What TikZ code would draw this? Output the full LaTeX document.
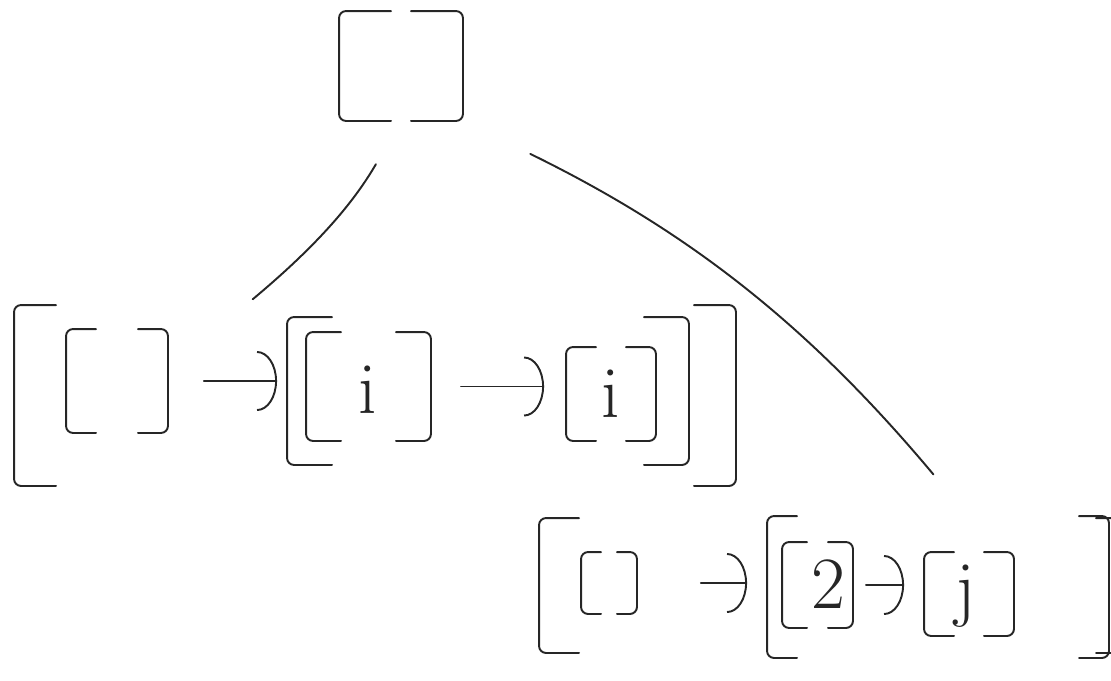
\documentclass[tikz,border=0pt]{standalone}
\usetikzlibrary{arrows.meta,fit}
\begin{document}
\begin{tikzpicture}[x=0.02cm, y=-0.02cm, line width=1.1pt, line cap=round, line join=round,
  every node/.style={inner sep=0pt},
  brk/.style={draw=black!85, rounded corners=4pt},
  arr/.style={draw=black!85, -{Arc Barb[length=0.4cm, width=1.2cm]}},
  edge/.style={draw=black!85},
  lbl/.style={font=\fontsize{42}{42}\selectfont, text=black!85}]
  \useasboundingbox (0,0) rectangle (1111,680);
  \clip (0,0) rectangle (1111,680);
  % root
  \node[fit={(340,12) (462,120)}] (root) {};
  % left child
  \node[fit={(15,306) (735,485)}] (g1) {};
  \node[fit={(67,330) (167,432)}] (e1) {};
  \node[fit={(288,318) (688,464)}] (s1) {};
  \node[fit={(307,333) (430,440)}] (a1) {};
  \node[fit={(567,348) (655,440)}] (b1) {};
  \node[lbl] (a1t) at (368,390) {i};
  \node[lbl] (b1t) at (611,394) {i};
  % right child
  \node[fit={(540,519) (1135,652)}] (g2) {};
  \node[fit={(582,553) (636,613)}] (e2) {};
  \node[fit={(768,517) (1108,657)}] (s2) {};
  \node[fit={(783,543) (852,627)}] (a2) {};
  \node[fit={(925,553) (1013,635)}] (b2) {};
  \node[lbl] (a2t) at (828,584) {2};
  \node[lbl] (b2t) at (966,596) {j};
  \foreach \n/\h in {root/52, g1/42, e1/30, s1/45, a1/35, b1/30, g2/40, e2/20, s2/30, a2/25, b2/30}{
    \draw[brk] (\n.north west) ++(\h,0) -- (\n.north west) -- (\n.south west) -- ++(\h,0);
    \draw[brk] (\n.north east) ++(-\h,0) -- (\n.north east) -- (\n.south east) -- ++(-\h,0);
  }
  \draw[edge, shorten <=1cm, shorten >=0.18cm] (root.south) to[bend left=10] (g1.145);
  \draw[edge, shorten <=1.5cm, shorten >=1.14cm] (root.south east) to[bend left=12] (g2.27);
  \draw[arr, shorten <=0.72cm, shorten >=0.2cm] (e1.east) -- (e1.east -| s1.west);
  \draw[arr, shorten <=0.6cm, shorten >=0.44cm] (a1.east) -- (a1.east -| b1.west);
  \draw[arr, shorten <=1.28cm, shorten >=0.4cm] (e2.east) -- (e2.east -| s2.west);
  \draw[arr, shorten <=0.26cm, shorten >=0.4cm] (a2.east) -- (a2.east -| b2.west);
\end{tikzpicture}
\end{document}
